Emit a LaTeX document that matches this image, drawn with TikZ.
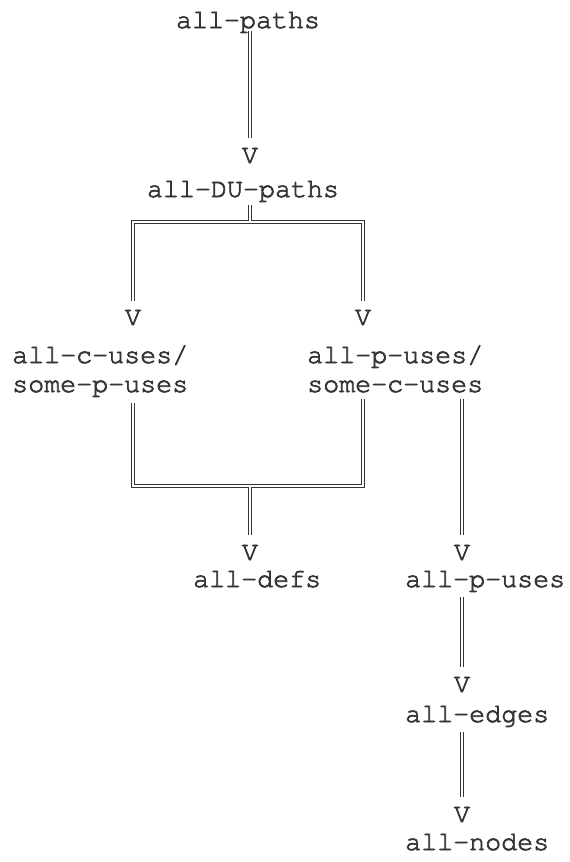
\documentclass[tikz,border=0pt]{standalone}
\usepackage{fontspec}
\newfontfamily\curfont[FakeBold=2.6]{TeX Gyre Cursor}
\usetikzlibrary{calc}
\definecolor{ink}{HTML}{353535}
\begin{document}
\begin{tikzpicture}[x=1pt,y=-1pt,
  lbl/.style={font=\fontsize{26.67}{29}\selectfont\curfont, text=ink, inner sep=0pt, anchor=base west, align=left},
  vhead/.style={font=\fontsize{26.67}{29}\selectfont\curfont, text=ink, inner sep=0pt, anchor=base},
  dbl/.style={draw=ink, line width=0.9pt, double=white, double distance=2pt, line join=miter, line cap=butt},
  gapfix/.style={draw=white, line width=2pt}
]
\useasboundingbox (0,0) rectangle (570,862);

\node[lbl, anchor=base] (ap) at (248,28) {all-paths};
\node[vhead] (v1) at (250,163) {V};
\node[lbl, anchor=base] (du) at (243,197) {all-DU-paths};
\coordinate (b1) at (250,222);
\node[vhead] (v2l) at (133,325) {V};
\node[vhead] (v2r) at (363,325) {V};
\node[lbl] (cu) at (12,392) {all-c-uses/\\some-p-uses};
\node[lbl] (pu2) at (307,392) {all-p-uses/\\some-c-uses};
\coordinate (b2) at (250,486);
\node[vhead] (v3) at (250,560) {V};
\node[vhead] (v3r) at (462,560) {V};
\node[lbl] (ad) at (193,587) {all-defs};
\node[lbl] (apu) at (405,587) {all-p-uses};
\node[vhead] (v4) at (462,692) {V};
\node[lbl] (ae) at (405,722) {all-edges};
\node[vhead] (v5) at (462,822) {V};
\node[lbl] (an) at (405,850) {all-nodes};

% all-paths -> all-DU-paths
\draw[dbl] ($(ap.base -| v1)+(0,3)$) -- ($(v1.north)+(0,-10)$);
% branch from all-DU-paths
\draw[dbl] ($(v2l.north)+(0,-9)$) |- (b1) -| ($(v2r.north)+(0,-9)$);
\draw[dbl] ($(du.base -| b1)+(0,8)$) -- (b1);
\draw[gapfix] ($(b1)+(-6,0)$) -- ($(b1)+(6,0)$);
% join into all-defs
\draw[dbl] ($(cu.south -| v2l)+(0,6)$) |- (b2) -| ($(pu2.south -| v2r)+(0,6)$);
\draw[dbl] ($(v3.north)+(0,-10)$) -- (b2);
\draw[gapfix] ($(b2)+(-6,0)$) -- ($(b2)+(6,0)$);
% right chain
\draw[dbl] ($(pu2.south -| v3r)+(0,6)$) -- ($(v3r.north)+(0,-10)$);
\draw[dbl] ($(apu.south -| v4)+(0,5)$) -- ($(v4.north)+(0,-10)$);
\draw[dbl] ($(ae.south -| v5)+(0,5)$) -- ($(v5.north)+(0,-10)$);
\end{tikzpicture}
\end{document}
